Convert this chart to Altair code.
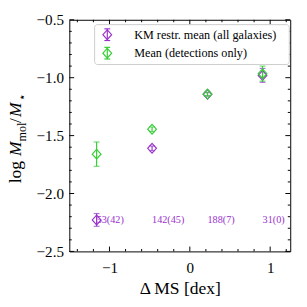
import altair as alt
import pandas as pd

# ---- data ----
dms = [-1.16, -0.47, 0.22, 0.905]
km_mean = [-2.228, -1.61, -1.144, -0.98]
km_err = [0.055, 0.02, 0.015, 0.06]
det_mean = [-1.66, -1.445, -1.14, -0.965]
det_err = [0.105, 0.02, 0.015, 0.065]
counts = ["53(42)", "142(45)", "188(7)", "31(0)"]
count_y = -2.23
series = ["KM restr. mean (all galaxies)", "Mean (detections only)"]
colors = ["#9932cc", "#32cd32"]
x_major = [-1, 0, 1]
x_minor = [-1.4, -1.2, -0.8, -0.6, -0.4, -0.2, 0.2, 0.4, 0.6, 0.8, 1.2]
y_major = [-2.5, -2.0, -1.5, -1.0, -0.5]
y_minor = [-2.4, -2.3, -2.2, -2.1, -1.9, -1.8, -1.7, -1.6, -1.4, -1.3, -1.2,
           -1.1, -0.9, -0.8, -0.7, -0.6]
ytitle_parts = ["log", "M", "mol", "/", "M", "⋆"]
xtitle = "Δ MS [dex]"

rows = []
for i in range(len(dms)):
    rows.append({"series": series[0], "dms": dms[i], "mean": km_mean[i],
                 "lo": km_mean[i] - km_err[i], "hi": km_mean[i] + km_err[i]})
for i in range(len(dms)):
    rows.append({"series": series[1], "dms": dms[i], "mean": det_mean[i],
                 "lo": det_mean[i] - det_err[i], "hi": det_mean[i] + det_err[i]})
df = pd.DataFrame(rows)
count_df = pd.DataFrame({"dms": dms, "label": counts, "cy": [count_y] * len(dms)})

W, H = 227, 238
FONT = "Liberation Serif"
xs = alt.Scale(domain=[-1.5, 1.25], nice=False, zero=False)
ys = alt.Scale(domain=[-2.5, -0.5], nice=False, zero=False)
xaxis = alt.Axis(values=x_major, format="d", ticks=False, domain=False, grid=False,
                 labelFont=FONT, labelFontSize=15.5, labelColor="black", labelPadding=10,
                 title=xtitle, titleFont=FONT, titleFontSize=18, titleFontWeight="normal",
                 titleColor="black", titlePadding=4)
yaxis = alt.Axis(values=y_major, format=".1f", ticks=False, domain=False, grid=False,
                 labelFont=FONT, labelFontSize=15.5, labelColor="black", labelPadding=6,
                 title=None)


def X(f):
    return alt.X(f"{f}:Q", scale=xs, axis=xaxis)


def Y(f):
    return alt.Y(f"{f}:Q", scale=ys, axis=yaxis)


DIAMOND = "M0,-1L0.9,0L0,1L-0.9,0Z"
layers = []

# inward ticks on all four sides
xmaj_df = pd.DataFrame({"v": x_major})
xmin_df = pd.DataFrame({"v": x_minor})
ymaj_df = pd.DataFrame({"v": y_major})
ymin_df = pd.DataFrame({"v": y_minor})
for d, ln in [(xmaj_df, 5), (xmin_df, 2.5)]:
    layers.append(alt.Chart(d).mark_rule(color="black", strokeWidth=1).encode(
        x=X("v"), y=alt.value(H), y2=alt.value(H - ln)))
    layers.append(alt.Chart(d).mark_rule(color="black", strokeWidth=1).encode(
        x=X("v"), y=alt.value(0), y2=alt.value(ln)))
for d, ln in [(ymaj_df, 5), (ymin_df, 2.5)]:
    layers.append(alt.Chart(d).mark_rule(color="black", strokeWidth=1).encode(
        y=Y("v"), x=alt.value(0), x2=alt.value(ln)))
    layers.append(alt.Chart(d).mark_rule(color="black", strokeWidth=1).encode(
        y=Y("v"), x=alt.value(W), x2=alt.value(W - ln)))

# data series
for s, c in zip(series, colors):
    b = alt.Chart(df).transform_filter(alt.datum.series == s)
    layers.append(b.mark_rule(color=c, strokeWidth=1.2).encode(x=X("dms"), y=Y("lo"), y2="hi:Q"))
    layers.append(b.mark_tick(color=c, orient="horizontal", size=6, thickness=1.2).encode(x=X("dms"), y=Y("lo")))
    layers.append(b.mark_tick(color=c, orient="horizontal", size=6, thickness=1.2).encode(x=X("dms"), y=Y("hi")))
    layers.append(b.mark_point(shape=DIAMOND, size=100, filled=False, color=c, strokeWidth=1.2,
                               opacity=1).encode(x=X("dms"), y=Y("mean")))

# count labels
layers.append(alt.Chart(count_df).mark_text(align="left", baseline="middle", font=FONT,
                                            fontSize=10.5, color=colors[0]).encode(
    x=X("dms"), y=Y("cy"), text="label:N"))

# legend (manual)
leg_df = pd.DataFrame({"series": series})
layers.append(alt.Chart(leg_df).transform_filter(alt.datum.series == series[0]).mark_rect(
    fill="white", stroke="#cccccc", strokeWidth=1, cornerRadius=3).encode(
    x=alt.value(26), x2=alt.value(226), y=alt.value(5), y2=alt.value(46)))
for i, (s, c) in enumerate(zip(series, colors)):
    ry = 15.3 + 19 * i
    lb = alt.Chart(leg_df).transform_filter(alt.datum.series == s)
    layers.append(lb.mark_rule(color=c, strokeWidth=1.2).encode(
        x=alt.value(39), y=alt.value(ry - 6), y2=alt.value(ry + 6)))
    for dy in (-6, 6):
        layers.append(lb.mark_rule(color=c, strokeWidth=1.2).encode(
            x=alt.value(36), x2=alt.value(42), y=alt.value(ry + dy)))
    layers.append(lb.mark_point(shape=DIAMOND, size=100, filled=False, color=c, strokeWidth=1.2,
                                opacity=1).encode(x=alt.value(39), y=alt.value(ry)))
    layers.append(lb.mark_text(align="left", baseline="middle", font=FONT, fontSize=12.5,
                               color="black").encode(x=alt.value(66.7), y=alt.value(ry), text="series:N"))

# y-axis title built from pieces (main + subscripts)
tdf = pd.DataFrame({"t": ytitle_parts})
pieces = [(0, -50, 168, 18, "normal"), (1, -50, 140, 18, "italic"), (2, -44, 125, 12.5, "normal"),
          (3, -50, 106, 18, "normal"), (4, -50, 100, 18, "italic"), (5, -44, 83, 12.5, "normal")]
for idx, px, py, fs, st in pieces:
    layers.append(alt.Chart(tdf).transform_filter(alt.datum.t == ytitle_parts[idx]).transform_window(
        r="row_number()").transform_filter("datum.r == 1").mark_text(
        angle=270, align="left", baseline="alphabetic", font=FONT, fontSize=fs, fontStyle=st,
        color="black").encode(x=alt.value(px), y=alt.value(py), text="t:N"))

chart = alt.layer(*layers).properties(
    width=W, height=H,
    padding={"left": 63, "top": 8, "right": 9, "bottom": 53},
    autosize=alt.AutoSizeParams(type="none"),
).configure_view(stroke="black", strokeWidth=1)

chart.save("out.html", embed_options={"renderer": "svg", "actions": False})
